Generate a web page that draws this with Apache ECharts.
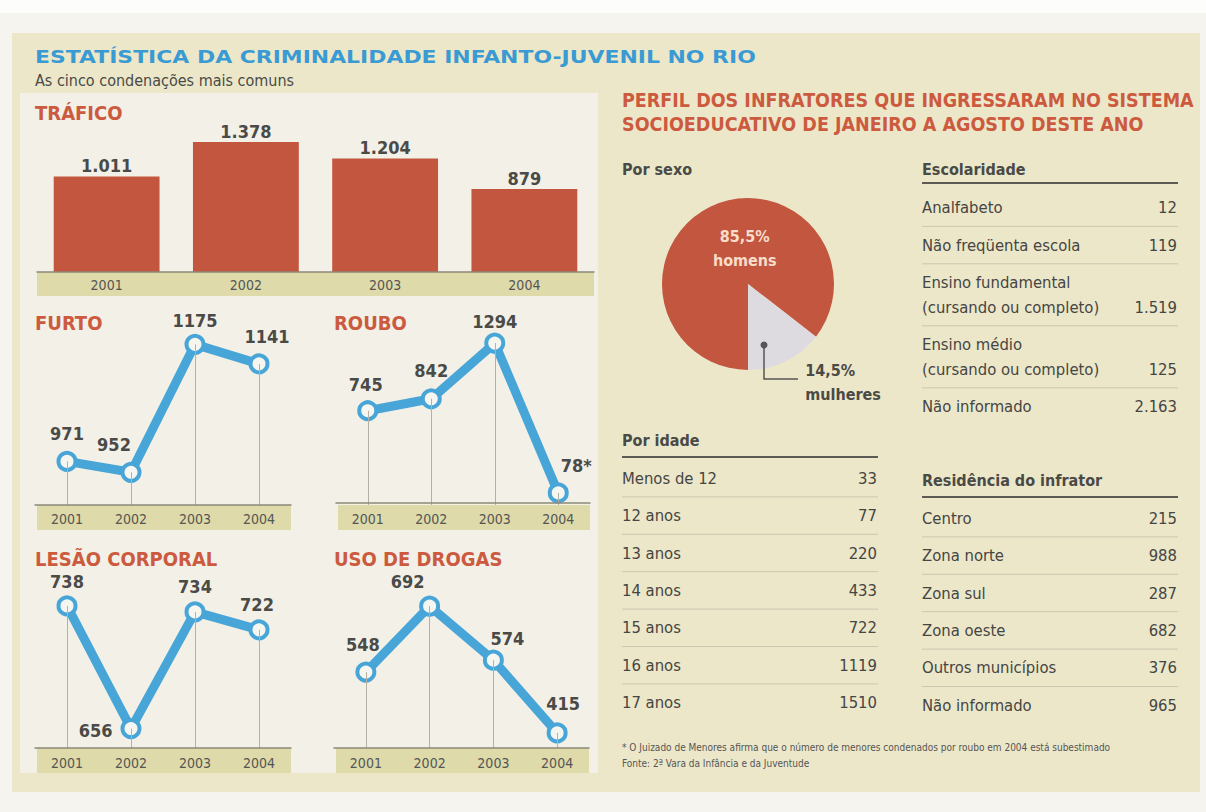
<!DOCTYPE html>
<html>
<head>
<meta charset="utf-8">
<script src="https://cdn.jsdelivr.net/npm/echarts@6/dist/echarts.min.js"></script>
<style>
html,body{margin:0;padding:0;background:#f6f5f1;}
#chart{width:1206px;height:812px;}
</style>
</head>
<body>
<div id="chart"></div>
<script>
// ---------------- DATA ----------------
const years = ['2001', '2002', '2003', '2004'];
const traficoValues = [1011, 1378, 1204, 879];
const furtoValues = [971, 952, 1175, 1141];
const rouboValues = [745, 842, 1294, 78];
const rouboNotes = ['', '', '', '*'];
const lesaoValues = [738, 656, 734, 722];
const drogasValues = [548, 692, 574, 415];

const sexoNames = ['homens', 'mulheres'];
const sexoValues = [85.5, 14.5];

const idadeLabels = ['Menos de 12', '12 anos', '13 anos', '14 anos', '15 anos', '16 anos', '17 anos'];
const idadeValues = [33, 77, 220, 433, 722, 1119, 1510];

const escolaridadeLabels = ['Analfabeto', 'Não freqüenta escola', 'Ensino fundamental\n(cursando ou completo)', 'Ensino médio\n(cursando ou completo)', 'Não informado'];
const escolaridadeValues = [12, 119, 1519, 125, 2163];

const residenciaLabels = ['Centro', 'Zona norte', 'Zona sul', 'Zona oeste', 'Outros municípios', 'Não informado'];
const residenciaValues = [215, 988, 287, 682, 376, 965];

// ---------------- STYLE ----------------
const COND = "'DejaVu Sans Condensed','DejaVu Sans',sans-serif";
const RED = '#c3563f';
const HEAD = '#cc5a3f';
const BLUE = '#48a5d7';
const DARK = '#4a4a47';
const BAND = '#dedaa9';

function dots(n) { return String(n).replace(/\B(?=(\d{3})+(?!\d))/g, '.'); }

const chart = echarts.init(document.getElementById('chart'), null, { renderer: 'svg' });

// line panels layout
const panels = [
  { title: 'FURTO', values: furtoValues, notes: null, left: 35, top: 330, width: 256, height: 175, min: 895, max: 1200, margin: 7,
    pos: [['top', 0, 0], ['top', -17, 0], ['top', 0, 4], ['top', 8, 0]], tx: 35, ty: 323 },
  { title: 'ROUBO', values: rouboValues, notes: rouboNotes, left: 336, top: 330, width: 254, height: 175, min: -20, max: 1400, margin: 7,
    pos: [['top', -2, 1], ['top', 0, -1], ['top', 0, 6], ['top', 18, 0]], tx: 334, ty: 323 },
  { title: 'LESÃO CORPORAL', values: lesaoValues, notes: null, left: 35, top: 570, width: 256, height: 178, min: 643, max: 762, margin: 8,
    pos: [['top', 0, 3], ['left', 0, 2], ['top', 0, 2], ['top', -2, 2]], tx: 35, ty: 559 },
  { title: 'USO DE DROGAS', values: drogasValues, notes: null, left: 334, top: 570, width: 255, height: 178, min: 382, max: 771, margin: 8,
    pos: [['top', -3, 0], ['top', -22, 3], ['top', 14, 6], ['top', 6, -2]], tx: 334, ty: 559 }
];
const barPanel = { left: 37, top: 122, width: 557, height: 150, min: 0, max: 1590 };

const grids = [], xAxes = [], yAxes = [], series = [], graphics = [];

function xAxisFor(i, margin) {
  return {
    type: 'category', gridIndex: i, data: years, boundaryGap: true, z: 5,
    axisLine: { lineStyle: { color: '#8c897a', width: 1.5 } },
    axisTick: { show: false },
    axisLabel: { color: '#555', fontSize: 14, fontFamily: COND, margin: margin, interval: 0 },
    splitLine: { show: false }
  };
}

// background
graphics.push({ type: 'rect', z: -100, shape: { x: 0, y: 0, width: 1206, height: 812 }, style: { fill: '#f5f4ef' } });
graphics.push({ type: 'rect', z: -99, shape: { x: 0, y: 0, width: 1206, height: 13 }, style: { fill: '#fdfdfc' } });
graphics.push({ type: 'rect', z: -98, shape: { x: 12, y: 33, width: 1188, height: 759 }, style: { fill: '#ece7c9' } });
graphics.push({ type: 'rect', z: -97, shape: { x: 20, y: 93, width: 578, height: 680 }, style: { fill: '#f2f0e7' } });

function text(x, y, t, font, fill, align, lh, sx) {
  return { type: 'text', z: 50, x: x, y: y, scaleX: sx || 1,
    style: { text: t, font: font, fill: fill, textAlign: align || 'left', align: align || 'left', textVerticalAlign: 'middle', verticalAlign: 'middle', lineHeight: lh || undefined } };
}
function hline(x1, x2, y, color, w) {
  return { type: 'line', z: 40, shape: { x1: x1, y1: y, x2: x2, y2: y }, style: { stroke: color, lineWidth: w } };
}

// titles
graphics.push(text(35, 57, 'ESTATÍSTICA DA CRIMINALIDADE INFANTO-JUVENIL NO RIO', "bold 17px 'DejaVu Sans',sans-serif", '#3a9bd4', 'left', 0, 1.29));
graphics.push(text(35, 80, 'As cinco condenações mais comuns', '16px ' + COND, DARK));
graphics.push(text(35, 113, 'TRÁFICO', 'bold 20px ' + COND, HEAD));

// ---- bar chart (TRÁFICO)
grids.push({ left: barPanel.left, top: barPanel.top, width: barPanel.width, height: barPanel.height });
xAxes.push(xAxisFor(0, 6));
yAxes.push({ type: 'value', gridIndex: 0, min: barPanel.min, max: barPanel.max, show: false });
graphics.push({ type: 'rect', z: -50, shape: { x: barPanel.left, y: barPanel.top + barPanel.height, width: barPanel.width, height: 24 }, style: { fill: BAND } });
series.push({
  type: 'bar', xAxisIndex: 0, yAxisIndex: 0, data: traficoValues, barWidth: '76%',
  itemStyle: { color: RED },
  label: { show: true, position: 'top', distance: 2, formatter: p => dots(p.value), fontWeight: 'bold', fontSize: 18, fontFamily: COND, color: DARK }
});

// ---- line charts
panels.forEach((p, k) => {
  const gi = k + 1;
  grids.push({ left: p.left, top: p.top, width: p.width, height: p.height });
  xAxes.push(xAxisFor(gi, p.margin));
  yAxes.push({ type: 'value', gridIndex: gi, min: p.min, max: p.max, show: false });
  graphics.push({ type: 'rect', z: -50, shape: { x: p.left + 2, y: p.top + p.height, width: p.width - 2, height: 25 }, style: { fill: BAND } });
  graphics.push(text(p.tx, p.ty, p.title, 'bold 20px ' + COND, HEAD));
  // drop lines
  series.push({
    type: 'line', xAxisIndex: gi, yAxisIndex: gi, data: p.values, z: 1, symbol: 'none',
    lineStyle: { opacity: 0 }, silent: true,
    markLine: {
      silent: true, symbol: ['none', 'none'], label: { show: false },
      lineStyle: { color: '#b4b1a4', width: 1, type: 'solid' },
      data: p.values.map((v, i) => [{ coord: [years[i], v] }, { coord: [years[i], p.min] }])
    }
  });
  series.push({
    type: 'line', xAxisIndex: gi, yAxisIndex: gi, z: 3,
    data: p.values.map((v, i) => ({ value: v, label: { position: p.pos[i][0], offset: [p.pos[i][1], p.pos[i][2]] } })),
    lineStyle: { color: BLUE, width: 9 },
    symbol: 'circle', symbolSize: 17,
    itemStyle: { color: '#f6f6f1', borderColor: BLUE, borderWidth: 4 },
    label: { show: true, distance: 8, fontWeight: 'bold', fontSize: 18, fontFamily: COND, color: DARK,
      formatter: q => q.value + (p.notes ? p.notes[q.dataIndex] : '') }
  });
});

// ---- right side
graphics.push(text(622, 100, 'PERFIL DOS INFRATORES QUE INGRESSARAM NO SISTEMA', 'bold 19.5px ' + COND, HEAD));
graphics.push(text(622, 124, 'SOCIOEDUCATIVO DE JANEIRO A AGOSTO DESTE ANO', 'bold 19.5px ' + COND, HEAD));
graphics.push(text(622, 169, 'Por sexo', 'bold 16px ' + COND, DARK));

const sexoColors = [RED, '#dddbe0'];
const sexoLabel = [
  { position: 'inside', offset: [17, 6], color: '#f8ddcb' },
  { position: 'inside', offset: [0, 0], color: DARK }
];
series.push({
  type: 'pie', center: [748, 284], radius: 86, startAngle: 270, clockwise: true, silent: true,
  data: sexoValues.map((v, i) => ({ value: v, name: sexoNames[i], itemStyle: { color: sexoColors[i] }, label: sexoLabel[i] })),
  label: { show: true, fontWeight: 'bold', fontSize: 16, fontFamily: COND, lineHeight: 24,
    formatter: q => String(q.value).replace('.', ',') + '%\n' + q.name },
  labelLine: { show: false },
  labelLayout: params => params.dataIndex === 1 ? { dx: 37, dy: 57, align: 'left' } : {}
});
// leader for mulheres
graphics.push({ type: 'polyline', z: 45, shape: { points: [[764, 345], [764, 379], [798, 379]] }, style: { stroke: '#555', lineWidth: 1.5, fill: null } });
graphics.push({ type: 'circle', z: 46, shape: { cx: 764, cy: 345, r: 3.5 }, style: { fill: '#555' } });

// tables
function table(x1, x2, headY, lineY, start, title, labels, values, fmt) {
  graphics.push(text(x1, headY, title, 'bold 16px ' + COND, DARK));
  graphics.push(hline(x1, x2, lineY, '#5c5b55', 2));
  let y = lineY + start;
  labels.forEach((lab, i) => {
    const n = lab.split('\n').length;
    const h = 37.4 + (n - 1) * 24.6;
    const c = y + h / 2;
    graphics.push(text(x1, c, lab, '16.5px ' + COND, '#454543', 'left', 24.5));
    graphics.push(text(x2 - 1, c + (n - 1) * 12.3, fmt(values[i]), '16.5px ' + COND, '#454543', 'right'));
    if (i < labels.length - 1) graphics.push(hline(x1, x2, y + h, '#cbc7b0', 1));
    y += h;
  });
}
table(922, 1178, 169, 183, 6, 'Escolaridade', escolaridadeLabels, escolaridadeValues, dots);
table(622, 878, 440, 457, 2.5, 'Por idade', idadeLabels, idadeValues, v => String(v));
table(922, 1178, 480, 497, 2.5, 'Residência do infrator', residenciaLabels, residenciaValues, v => String(v));

graphics.push(text(622, 747, '* O Juizado de Menores afirma que o número de menores condenados por roubo em 2004 está subestimado', '10px ' + COND, '#555'));
graphics.push(text(622, 763, 'Fonte: 2ª Vara da Infância e da Juventude', '10px ' + COND, '#555'));

chart.setOption({
  animation: false,
  grid: grids,
  xAxis: xAxes,
  yAxis: yAxes,
  series: series,
  graphic: { elements: graphics }
});
</script>
</body>
</html>
